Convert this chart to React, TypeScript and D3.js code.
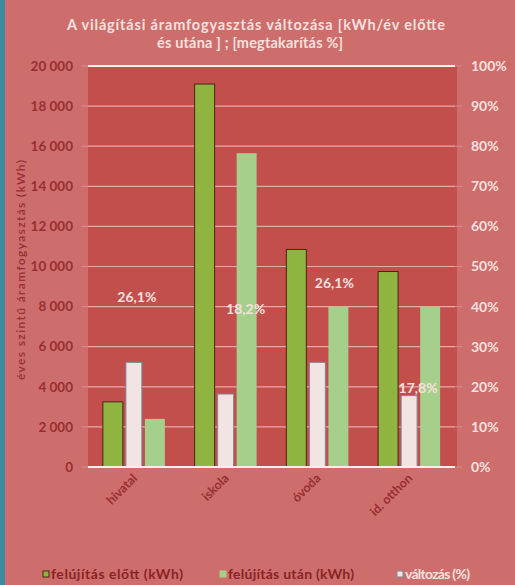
import React from "react";
import * as d3 from "d3";

const categories = ["hivatal", "iskola", "óvoda", "id. otthon"];
const before = [3250, 19100, 10850, 9750];
const after = [2400, 15650, 8000, 8000];
const change = [0.261, 0.182, 0.261, 0.178];
const changeLabels = ["26,1%", "18,2%", "26,1%", "17,8%"];
const leftTicks = [0, 2000, 4000, 6000, 8000, 10000, 12000, 14000, 16000, 18000, 20000];
const rightTicks = [0, 0.1, 0.2, 0.3, 0.4, 0.5, 0.6, 0.7, 0.8, 0.9, 1];
const seriesNames = ["felújítás előtt (kWh)", "felújítás után (kWh)", "változás (%)"];
// manual label offsets (px) relative to the top-centre of the change bar
const labelOffsets = [
  [3, -65],
  [20, -85],
  [17, -79],
  [9, -8],
];

const W = 515;
const H = 585;
const plot = { left: 88, right: 455, top: 66, bottom: 467 };
const FONT = "Lato, 'Open Sans', sans-serif";

export default function App() {
  const x = d3.scaleBand<string>().domain(categories).range([plot.left, plot.right]).paddingInner(0);
  const sub = d3.scaleBand<string>().domain(["before", "change", "after"]).range([-31, 31]).paddingInner(0.05);
  const yL = d3.scaleLinear().domain([0, 20000]).range([plot.bottom, plot.top]);
  const yR = d3.scaleLinear().domain([0, 1]).range([plot.bottom, plot.top]);
  const fmt = d3.formatLocale({ decimal: ",", thousands: " ", grouping: [3], currency: ["", ""] }).format(",d");
  const pct = d3.format(".0%");
  const cx = (c: string) => (x(c) as number) + x.bandwidth() / 2;

  const colBefore = "#8fb440";
  const colAfter = "#a6cf8c";
  const colChange = "#f3e4e4";
  const bg = "#cd6e6d";
  const plotBg = "#c24f4c";
  const darkText = "#982f2f";
  const lightText = "#f6e0df";

  const legendX = [43, 220, 397];
  const legendLen = [132, 126, 65];

  return (
    <svg width={W} height={H} style={{ position: "absolute", left: 0, top: 0 }} fontFamily={FONT}>
      <rect x={0} y={0} width={W} height={H} fill={bg} />
      <rect x={0} y={0} width={5} height={H} fill="#3a8aa0" />
      <rect x={plot.left} y={plot.top} width={plot.right - plot.left + 2} height={plot.bottom - plot.top} fill={plotBg} />

      {/* title */}
      <text x={256} y={30} textAnchor="middle" fill={lightText} fontSize={14.5} fontWeight="bold" textLength={378} lengthAdjust="spacing">
        A  világítási áramfogyasztás változása [kWh/év előtte
      </text>
      <text x={250} y={47.5} textAnchor="middle" fill={lightText} fontSize={14.5} fontWeight="bold" textLength={186} lengthAdjust="spacing">
        és utána ] ; [megtakarítás %]
      </text>

      {/* gridlines */}
      {leftTicks.map((t) => (
        <g key={"g" + t}>
          <line
            x1={plot.left}
            x2={plot.right}
            y1={yL(t)}
            y2={yL(t)}
            stroke={t === 0 || t === 20000 ? "#fbeeee" : "#e8a9a8"}
            strokeWidth={t === 0 || t === 20000 ? 2 : 1.2}
          />
          <line x1={plot.left - 7} x2={plot.left} y1={yL(t)} y2={yL(t)} stroke="#d98a89" strokeWidth={1} />
          <text x={73} y={yL(t)} dy="0.35em" textAnchor="end" fill={darkText} fontSize={13.5} fontWeight="bold">
            {fmt(t)}
          </text>
        </g>
      ))}
      {rightTicks.map((t) => (
        <g key={"r" + t}>
          <line x1={plot.right} x2={plot.right + 7} y1={yR(t)} y2={yR(t)} stroke="#d98a89" strokeWidth={1} />
          <text x={471} y={yR(t)} dy="0.35em" textAnchor="start" fill={lightText} fontSize={14} fontWeight="bold">
            {pct(t)}
          </text>
        </g>
      ))}

      {/* bars */}
      {categories.map((c, i) => {
        const bx = cx(c);
        const sb = sub.bandwidth();
        return (
          <g key={c}>
            <rect
              x={bx + (sub("before") as number)}
              y={yL(before[i])}
              width={sb}
              height={yL(0) - yL(before[i])}
              fill={colBefore}
              stroke="#4a2412"
              strokeWidth={1}
            />
            <rect
              x={bx + (sub("change") as number) + 2}
              y={yR(change[i])}
              width={sb - 4}
              height={yR(0) - yR(change[i])}
              fill={colChange}
              stroke="#7d8798"
              strokeWidth={1}
            />
            <rect
              x={bx + (sub("after") as number)}
              y={yL(after[i])}
              width={sb}
              height={yL(0) - yL(after[i])}
              fill={colAfter}
            />
          </g>
        );
      })}
      <line x1={plot.left} x2={plot.right} y1={yL(0)} y2={yL(0)} stroke="#fbeeee" strokeWidth={2} />

      {/* data labels */}
      {categories.map((c, i) => (
        <text
          key={"l" + c}
          x={cx(c) + labelOffsets[i][0]}
          y={yR(change[i]) + labelOffsets[i][1]}
          dy="0.35em"
          textAnchor="middle"
          fill={lightText}
          fontSize={14}
          fontWeight="bold"
        >
          {changeLabels[i]}
        </text>
      ))}

      {/* x labels */}
      {categories.map((c) => (
        <text
          key={"x" + c}
          transform={`translate(${cx(c) + 4},${plot.bottom + 12}) rotate(-45)`}
          textAnchor="end"
          fill={darkText}
          fontSize={12.5}
          fontWeight="bold"
        >
          {c}
        </text>
      ))}

      {/* y axis title */}
      <text
        transform={`translate(21,270) rotate(-90)`}
        dy="0.35em"
        textAnchor="middle"
        fill={darkText}
        fontSize={12}
        fontWeight={600}
        textLength={220}
        lengthAdjust="spacing"
      >
        éves szintű áramfogyasztás  (kWh)
      </text>

      {/* legend */}
      {seriesNames.map((s, i) => {
        const lx = legendX[i];
        const fills = [colBefore, colAfter, colChange];
        const strokes = ["#4a2412", "#a6cf8c", "#7d8798"];
        return (
          <g key={s}>
            <rect x={lx} y={571} width={6} height={6} fill={fills[i]} stroke={strokes[i]} strokeWidth={1} />
            <text
              x={lx + 8}
              y={574}
              dy="0.35em"
              fill={i === 2 ? lightText : "#8a2323"}
              fontSize={14}
              fontWeight="bold"
              textLength={legendLen[i]}
              lengthAdjust="spacing"
            >
              {s}
            </text>
          </g>
        );
      })}
    </svg>
  );
}
